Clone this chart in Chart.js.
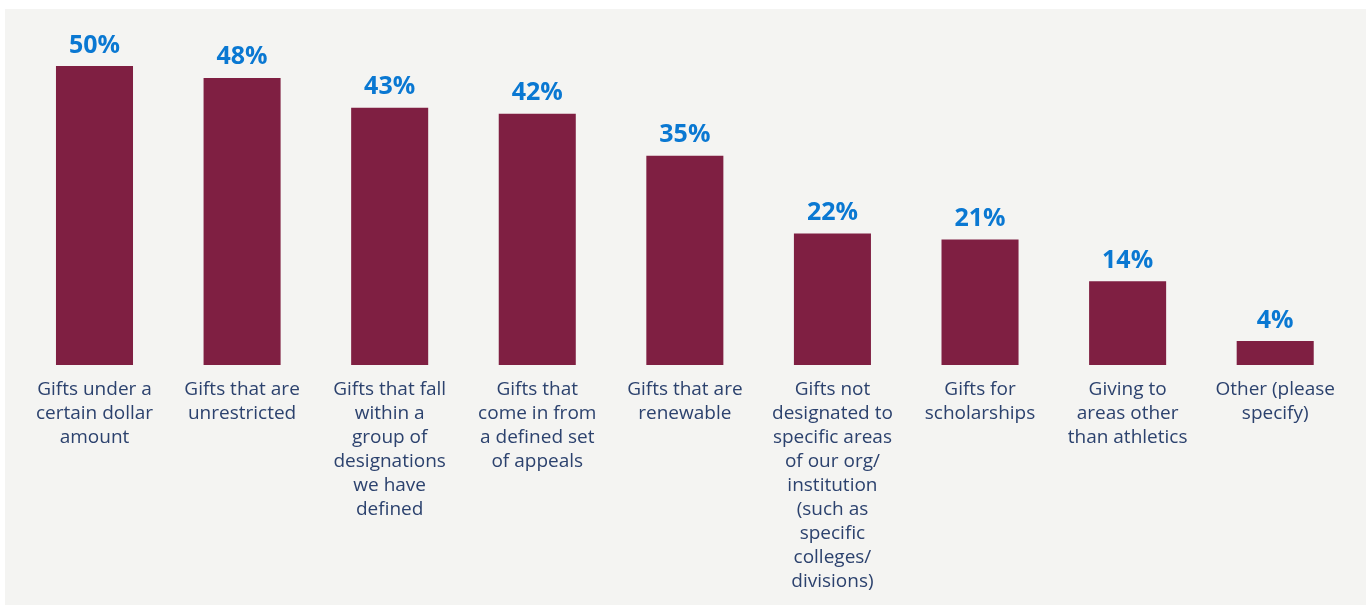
<!DOCTYPE html>
<html>
<head>
<meta charset="utf-8">
<script src="https://cdn.jsdelivr.net/npm/chart.js@4/dist/chart.umd.min.js"></script>
<style>
  html, body { margin: 0; padding: 0; background: #ffffff; }
  #wrap { width: 1366px; height: 606px; }
</style>
</head>
<body>
<div id="wrap"><canvas id="chart" width="1366" height="606"></canvas></div>
<script>
// Survey answers: which gifts are counted
const categories = [
  ["Gifts under a", "certain dollar", "amount"],
  ["Gifts that are", "unrestricted"],
  ["Gifts that fall", "within a", "group of", "designations", "we have", "defined"],
  ["Gifts that", "come in from", "a defined set", "of appeals"],
  ["Gifts that are", "renewable"],
  ["Gifts not", "designated to", "specific areas", "of our org/", "institution", "(such as", "specific", "colleges/", "divisions)"],
  ["Gifts for", "scholarships"],
  ["Giving to", "areas other", "than athletics"],
  ["Other (please", "specify)"]
];
const shares = [50, 48, 43, 42, 35, 22, 21, 14, 4];

const BAR = '#7f1f42';
const VALUE_BLUE = '#0a78d2';
const LABEL_NAVY = '#2c426e';
const PANEL = '#f4f4f2';

// Light panel behind the whole chart
const panelBackground = {
  id: 'panelBackground',
  beforeDraw(chart) {
    const ctx = chart.ctx;
    ctx.save();
    ctx.fillStyle = PANEL;
    ctx.fillRect(5, 9, chart.width - 5, chart.height - 10);
    ctx.restore();
  }
};

// Percent labels above each bar
const valueLabels = {
  id: 'valueLabels',
  afterDatasetsDraw(chart) {
    const ctx = chart.ctx;
    const meta = chart.getDatasetMeta(0);
    ctx.save();
    ctx.font = 'bold 25px "Open Sans"';
    ctx.fillStyle = VALUE_BLUE;
    ctx.textAlign = 'center';
    ctx.textBaseline = 'alphabetic';
    meta.data.forEach((bar, i) => {
      ctx.fillText(shares[i] + '%', bar.x, bar.y - 13.5);
    });
    ctx.restore();
  }
};

new Chart(document.getElementById('chart'), {
  type: 'bar',
  data: {
    labels: categories,
    datasets: [{
      data: shares,
      backgroundColor: BAR,
      borderWidth: 0,
      barPercentage: 1,
      categoryPercentage: 0.522
    }]
  },
  options: {
    responsive: false,
    animation: false,
    devicePixelRatio: 1,
    layout: { padding: { left: 20.7, right: 17, top: 36.1, bottom: 0 } },
    plugins: {
      legend: { display: false },
      tooltip: { enabled: false }
    },
    scales: {
      x: {
        grid: { display: false, drawTicks: false },
        border: { display: false },
        ticks: {
          autoSkip: false,
          maxRotation: 0,
          minRotation: 0,
          padding: 13,
          color: LABEL_NAVY,
          font: { family: '"Open Sans"', size: 19, lineHeight: 24 / 19 }
        },
        afterFit(scale) { scale.height = 241; }
      },
      y: {
        display: false,
        min: 0,
        max: 55
      }
    }
  },
  plugins: [panelBackground, valueLabels]
});
</script>
</body>
</html>
